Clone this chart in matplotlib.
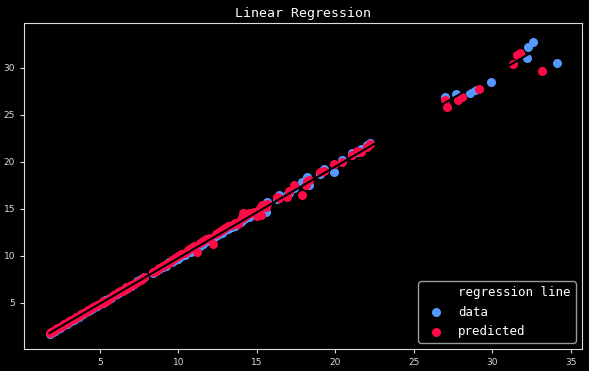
import numpy as np
import matplotlib
matplotlib.use("Agg")
import matplotlib.pyplot as plt

# dense band, shared x for data and prediction
x_band = [1.8, 1.9, 2.0, 2.15, 2.3, 2.45, 2.6, 2.75, 2.9, 3.05, 3.2, 3.35, 3.5, 3.65,
          3.8, 3.95, 4.1, 4.25, 4.4, 4.6, 4.8, 5.0, 5.2, 5.35, 5.5, 5.7, 5.9, 6.1,
          6.3, 6.5, 6.65, 6.8, 7.0, 7.2, 7.4, 7.6, 7.8,
          8.4, 8.6, 8.8, 9.0, 9.2, 9.4, 9.6, 9.8, 10.0, 10.2, 10.4, 10.6, 10.8, 11.0,
          11.2, 11.4, 11.6, 11.8, 12.0, 12.2, 12.4, 12.6, 12.8, 13.0, 13.2, 13.4, 13.6,
          13.8, 14.0, 14.2, 14.4, 14.6, 14.8, 15.0, 15.2,
          14.1, 14.5, 15.3, 15.6, 15.66, 15.35, 16.3, 16.45, 16.9, 17.05, 17.4, 17.9,
          18.15, 18.22, 18.35, 19.0, 19.3, 19.95, 20.45, 21.1, 21.4, 21.67, 22.05, 22.24]
y_band_data = [1.65, 1.80, 1.88, 2.02, 2.18, 2.30, 2.49, 2.60, 2.78, 2.94, 3.05, 3.22, 3.36, 3.50,
               3.68, 3.80, 3.98, 4.10, 4.28, 4.46, 4.62, 4.85, 5.02, 5.30, 5.38, 5.55, 5.78, 5.96,
               6.12, 6.40, 6.52, 6.66, 6.80, 7.05, 7.28, 7.50, 7.74,
               8.15, 8.40, 8.62, 8.80, 8.95, 9.30, 9.35, 9.55, 9.65, 9.95, 10.05, 10.40, 10.45, 10.75,
               10.90, 11.10, 11.25, 11.55, 11.60, 11.85, 12.10, 12.30, 12.40, 12.70, 12.85, 13.10, 13.20,
               13.50, 13.60, 13.90, 14.10, 14.20, 14.50, 14.70, 14.80,
               14.30, 14.15, 14.60, 14.68, 15.74, 15.10, 16.00, 16.49, 16.50, 16.70, 17.20, 17.87,
               18.00, 18.40, 17.55, 18.70, 19.26, 18.94, 20.20, 20.90, 21.06, 21.40, 21.80, 22.00]
y_band_pred = [1.78, 1.86, 2.00, 2.14, 2.30, 2.45, 2.58, 2.74, 2.90, 3.04, 3.20, 3.33, 3.49, 3.62,
               3.78, 3.93, 4.06, 4.22, 4.36, 4.55, 4.72, 4.92, 5.18, 5.05, 5.30, 5.66, 5.84, 6.04,
               6.25, 6.30, 6.65, 6.55, 6.95, 7.00, 7.20, 7.45, 7.70,
               8.30, 8.35, 8.75, 8.95, 9.10, 9.25, 9.60, 9.80, 10.00, 10.20, 10.35, 10.60, 10.80, 11.00,
               10.45, 11.35, 11.55, 11.75, 11.95, 11.25, 12.35, 12.50, 12.75, 12.95, 13.15, 13.30, 13.55,
               13.40, 13.95, 14.15, 14.30, 14.55, 14.65, 14.20, 15.10,
               14.57, 14.60, 14.36, 15.20, 15.50, 15.43, 16.28, 16.20, 16.28, 16.90, 17.55, 16.49,
               17.55, 18.00, 18.10, 18.94, 19.00, 19.79, 20.00, 20.74, 21.20, 21.06, 21.60, 21.90]

# upper-right cluster
x_top_data = [27.0, 27.67, 28.56, 28.88, 29.9, 32.2, 32.27, 32.6, 34.1]
y_top_data = [26.9, 27.2, 27.3, 27.66, 28.5, 31.06, 32.2, 32.8, 30.5]
x_top_pred = [26.97, 27.1, 27.8, 28.05, 29.14, 31.3, 31.56, 31.75, 33.2]
y_top_pred = [26.6, 25.85, 26.6, 26.9, 27.77, 30.4, 31.4, 31.6, 29.7]

x_data = np.array(x_band + x_top_data)
y_data = np.array(y_band_data + y_top_data)
x_pred = np.array(x_band + x_top_pred)
y_pred = np.array(y_band_pred + y_top_pred)

plt.style.use("dark_background")
bg = "#000000"
fig = plt.figure(figsize=(5.89, 3.71), dpi=100, facecolor=bg)
ax = fig.add_axes([0.041, 0.059, 0.947, 0.879], facecolor=bg)

slope, intercept = np.polyfit(x_data, y_data, 1)
line_x = np.array([x_data.min(), x_data.max()])

ax.plot(line_x, slope * line_x + intercept, color="black", lw=1.5, label="regression line")
ax.scatter(x_data, y_data, s=30, color="#5599ff", label="data")
ax.scatter(x_pred, y_pred, s=30, color="#ff0a47", label="predicted")

ax.set_title("Linear Regression", fontsize=9.5, family="DejaVu Sans Mono", color="white", pad=4)
ax.tick_params(labelsize=6.5, colors="#dddddd", length=3)
for sp in ax.spines.values():
    sp.set_color("#dddddd")

leg = ax.legend(loc="lower right", prop={"family": "DejaVu Sans Mono", "size": 9},
                facecolor=bg, edgecolor="#999999", framealpha=1)

fig.savefig("out.png", dpi=100, facecolor=bg)
